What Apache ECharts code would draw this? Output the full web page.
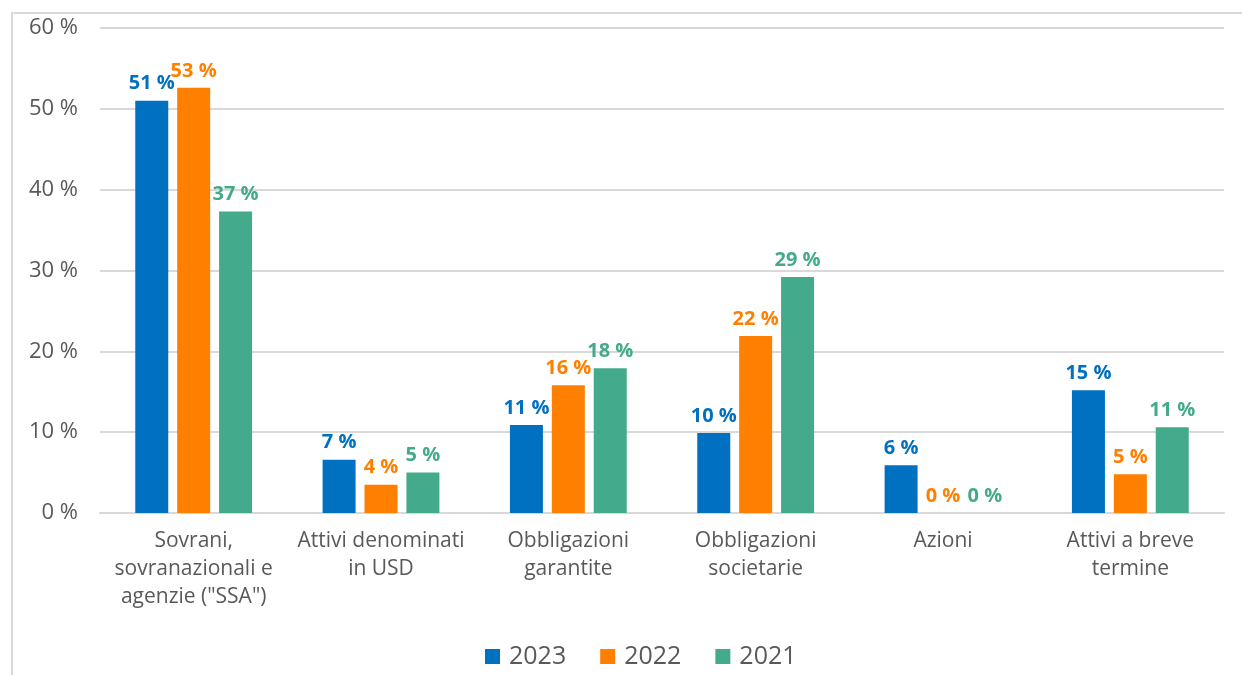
<!DOCTYPE html>
<html>
<head>
<meta charset="utf-8">
<script src="https://cdn.jsdelivr.net/npm/echarts@6/dist/echarts.min.js"></script>
<style>
  html, body { margin: 0; padding: 0; background: #fff; }
  #chart { width: 1242px; height: 675px; }
</style>
</head>
<body>
<div id="chart"></div>
<script>
var categories = ["Sovrani,\nsovranazionali e\nagenzie (\"SSA\")", "Attivi denominati\nin USD", "Obbligazioni\ngarantite", "Obbligazioni\nsocietarie", "Azioni", "Attivi a breve\ntermine"];
var years = ["2023", "2022", "2021"];
var v2023 = [51.0, 6.6, 10.9, 9.9, 5.9, 15.2];
var v2022 = [52.6, 3.5, 15.8, 21.9, 0, 4.8];
var v2021 = [37.3, 5.0, 17.9, 29.2, 0, 10.6];
var colors = ["#0070c0", "#ff7f00", "#43aa8b"];

var chart = echarts.init(document.getElementById("chart"));
var font = "'Open Sans', 'DejaVu Sans', sans-serif";

function mk(name, data, color) {
  return {
    name: name,
    type: "bar",
    data: data,
    barWidth: 33,
    barGap: "27%",
    itemStyle: {color: color},
    label: {
      show: true,
      position: "top",
      distance: 7,
      color: color,
      fontFamily: font,
      fontWeight: "bold",
      fontSize: 20,
      formatter: function (p) { return Math.round(p.value) + " %"; }
    }
  };
}

var option = {
  animation: false,
  graphic: [{
    type: "rect",
    shape: {x: 12, y: 13, width: 1240, height: 700},
    style: {fill: "none", stroke: "#d9d9d9", lineWidth: 2}
  }],
  grid: {left: 100, right: 18, top: 28, bottom: 162},
  legend: {
    data: years,
    bottom: 1,
    left: 480,
    itemWidth: 15,
    itemHeight: 15,
    itemGap: 34,
    icon: "rect",
    textStyle: {fontFamily: font, fontSize: 25, color: "#595959", padding: [0, 0, 0, 4]}
  },
  xAxis: {
    type: "category",
    data: categories,
    axisLine: {lineStyle: {color: "#d9d9d9", width: 2}},
    axisTick: {show: false},
    axisLabel: {
      interval: 0,
      margin: 14,
      fontFamily: font,
      fontSize: 21,
      lineHeight: 28,
      color: "#595959"
    }
  },
  yAxis: {
    type: "value",
    min: 0,
    max: 60,
    interval: 10,
    axisLine: {show: false},
    axisTick: {show: false},
    splitLine: {lineStyle: {color: "#d9d9d9", width: 2}},
    axisLabel: {
      margin: 22,
      fontFamily: font,
      fontSize: 22,
      color: "#595959",
      formatter: "{value} %"
    }
  },
  series: [
    mk(years[0], v2023, colors[0]),
    mk(years[1], v2022, colors[1]),
    mk(years[2], v2021, colors[2])
  ]
};
chart.setOption(option);
</script>
</body>
</html>
